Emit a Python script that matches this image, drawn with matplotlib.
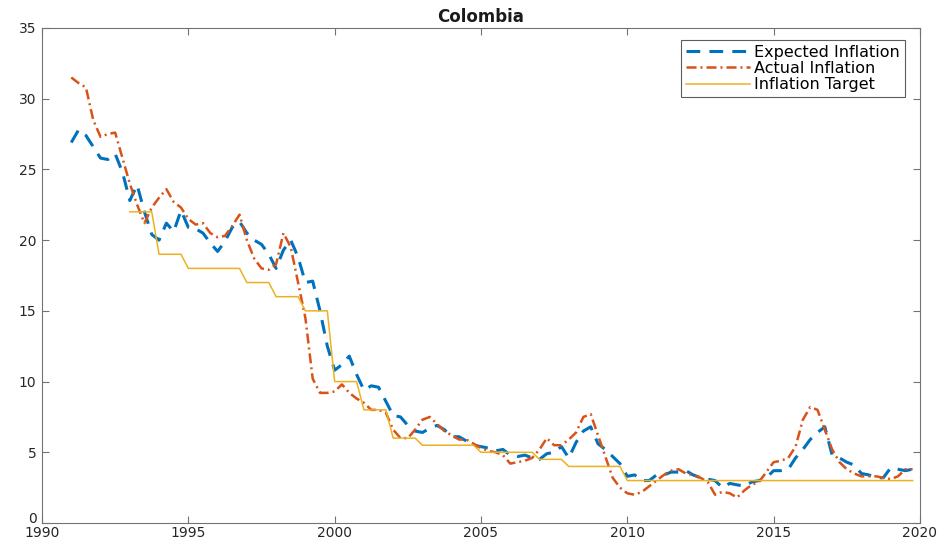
import numpy as np
import matplotlib
matplotlib.use("Agg")
import matplotlib.pyplot as plt
from matplotlib.transforms import ScaledTranslation

# quarterly observations, 1991Q1 .. 2019Q4
start_year = 1991
expected = [
    26.9, 27.8, 27.4, 26.6,   # 1991
    25.8, 25.7, 26.1, 24.8,   # 1992
    22.8, 23.9, 22.0, 20.4,   # 1993
    20.0, 21.2, 20.6, 22.1,   # 1994
    20.9, 20.8, 20.5, 19.8,   # 1995
    19.2, 19.9, 20.9, 21.3,   # 1996
    20.5, 20.0, 19.7, 19.0,   # 1997
    18.0, 19.3, 20.0, 18.8,   # 1998
    17.0, 17.1, 15.0, 12.5,   # 1999
    10.8, 11.2, 11.8, 10.5,   # 2000
    9.4, 9.7, 9.6, 8.6,       # 2001
    7.6, 7.5, 6.9, 6.5,       # 2002
    6.4, 6.7, 6.9, 6.6,       # 2003
    6.1, 6.1, 5.8, 5.5,       # 2004
    5.4, 5.3, 5.1, 5.2,       # 2005
    4.8, 4.7, 4.8, 4.6,       # 2006
    4.5, 4.9, 5.0, 5.4,       # 2007
    4.6, 5.7, 6.5, 6.8,       # 2008
    5.6, 5.2, 4.7, 4.2,       # 2009
    3.3, 3.4, 3.0, 3.0,       # 2010
    3.4, 3.4, 3.6, 3.6,       # 2011
    3.7, 3.4, 3.2, 3.1,       # 2012
    3.0, 2.5, 2.8, 2.7,       # 2013
    2.6, 2.9, 3.0, 3.2,       # 2014
    3.7, 3.7, 3.8, 4.6,       # 2015
    5.2, 5.9, 6.4, 6.8,       # 2016
    4.8, 4.6, 4.3, 4.1,       # 2017
    3.5, 3.4, 3.2, 3.2,       # 2018
    3.9, 3.8, 3.7, 3.8,       # 2019
]
actual = [
    31.5, 31.1, 30.8, 28.5,   # 1991
    27.3, 27.5, 27.6, 25.8,   # 1992
    24.0, 22.5, 21.2, 22.3,   # 1993
    23.0, 23.6, 22.7, 22.3,   # 1994
    21.5, 21.1, 21.2, 20.5,   # 1995
    20.2, 20.3, 21.0, 21.8,   # 1996
    20.0, 18.7, 18.0, 17.9,   # 1997
    18.3, 20.5, 19.5, 17.0,   # 1998
    14.5, 10.2, 9.2, 9.2,     # 1999
    9.3, 9.8, 9.2, 8.8,       # 2000
    8.5, 8.0, 8.0, 7.8,       # 2001
    6.6, 6.0, 6.0, 6.6,       # 2002
    7.3, 7.5, 7.0, 6.5,       # 2003
    6.2, 5.9, 5.9, 5.6,       # 2004
    5.3, 5.1, 5.0, 4.8,       # 2005
    4.2, 4.3, 4.4, 4.6,       # 2006
    5.2, 6.0, 5.5, 5.5,       # 2007
    5.9, 6.4, 7.5, 7.7,       # 2008
    6.2, 4.7, 3.2, 2.5,       # 2009
    2.1, 2.0, 2.2, 2.6,       # 2010
    3.0, 3.4, 3.7, 3.8,       # 2011
    3.5, 3.4, 3.2, 2.9,       # 2012
    2.0, 2.2, 2.1, 1.8,       # 2013
    2.3, 2.7, 2.9, 3.6,       # 2014
    4.3, 4.4, 4.6, 5.4,       # 2015
    7.3, 8.2, 8.0, 6.6,       # 2016
    5.2, 4.3, 3.8, 3.5,       # 2017
    3.3, 3.3, 3.3, 3.2,       # 2018
    3.1, 3.3, 3.8, 3.8,       # 2019
]

# target, quarterly from 1993Q1
target_start = 1993
target = [
    22, 22, 22, 22,           # 1993
    19, 19, 19, 19,           # 1994
    18, 18, 18, 18,           # 1995
    18, 18, 18, 18,           # 1996
    17, 17, 17, 17,           # 1997
    16, 16, 16, 16,           # 1998
    15, 15, 15, 15,           # 1999
    10, 10, 10, 10,           # 2000
    8, 8, 8, 8,               # 2001
    6, 6, 6, 6,               # 2002
    5.5, 5.5, 5.5, 5.5,       # 2003
    5.5, 5.5, 5.5, 5.5,       # 2004
    5, 5, 5, 5,               # 2005
    5, 5, 5, 5,               # 2006
    4.5, 4.5, 4.5, 4.5,       # 2007
    4, 4, 4, 4,               # 2008
    4, 4, 4, 4,               # 2009
    3, 3, 3, 3,               # 2010
    3, 3, 3, 3,               # 2011
    3, 3, 3, 3,               # 2012
    3, 3, 3, 3,               # 2013
    3, 3, 3, 3,               # 2014
    3, 3, 3, 3,               # 2015
    3, 3, 3, 3,               # 2016
    3, 3, 3, 3,               # 2017
    3, 3, 3, 3,               # 2018
    3, 3, 3, 3,               # 2019
]

t_obs = start_year + np.arange(len(actual)) / 4
t_tgt = target_start + np.arange(len(target)) / 4

plt.rcParams['font.family'] = ['DejaVu Sans']

fig = plt.figure(figsize=(9.44, 5.44), dpi=100)
ax = fig.add_axes([0.0445, 0.0386, 0.930, 0.910])

ax.plot(t_obs, expected, color='#0072BD', lw=2.2, dashes=(4.5, 3),
        label='Expected Inflation')
ax.plot(t_obs, actual, color='#D95319', lw=1.8, dashes=(4, 1.6, 0.8, 1.6),
        label='Actual Inflation')
ax.plot(t_tgt, target, color='#EDB120', lw=1.1, label='Inflation Target')

ax.set_xlim(1990, 2020)
ax.set_ylim(0, 35)
ax.set_xticks(range(1990, 2021, 5))
ax.set_yticks(range(0, 36, 5))
ax.tick_params(direction='in', length=5, width=0.8, color='0.45',
               labelsize=10, labelcolor='0.15', top=True, right=True, pad=4)
ax.tick_params(axis='x', pad=2.5)
for s in ax.spines.values():
    s.set_color('0.45')
    s.set_linewidth(0.8)

# lift the "0" a little so it does not sit on top of "1990"
zero_lbl = ax.yaxis.get_major_ticks()[0].label1
zero_lbl.set_transform(zero_lbl.get_transform()
                       + ScaledTranslation(0, 4 / 72, fig.dpi_scale_trans))

ax.set_title('Colombia', fontsize=12, fontweight='bold', color='0.1', pad=4)

leg = ax.legend(loc='upper right', bbox_to_anchor=(0.983, 0.976), fontsize=11.5,
                frameon=True, fancybox=False, handlelength=4.0, borderpad=0.3,
                labelspacing=0.08, handletextpad=0.3, borderaxespad=0)
leg.get_frame().set_edgecolor('0.2')
leg.get_frame().set_linewidth(0.8)

fig.savefig('out.png', dpi=100)
